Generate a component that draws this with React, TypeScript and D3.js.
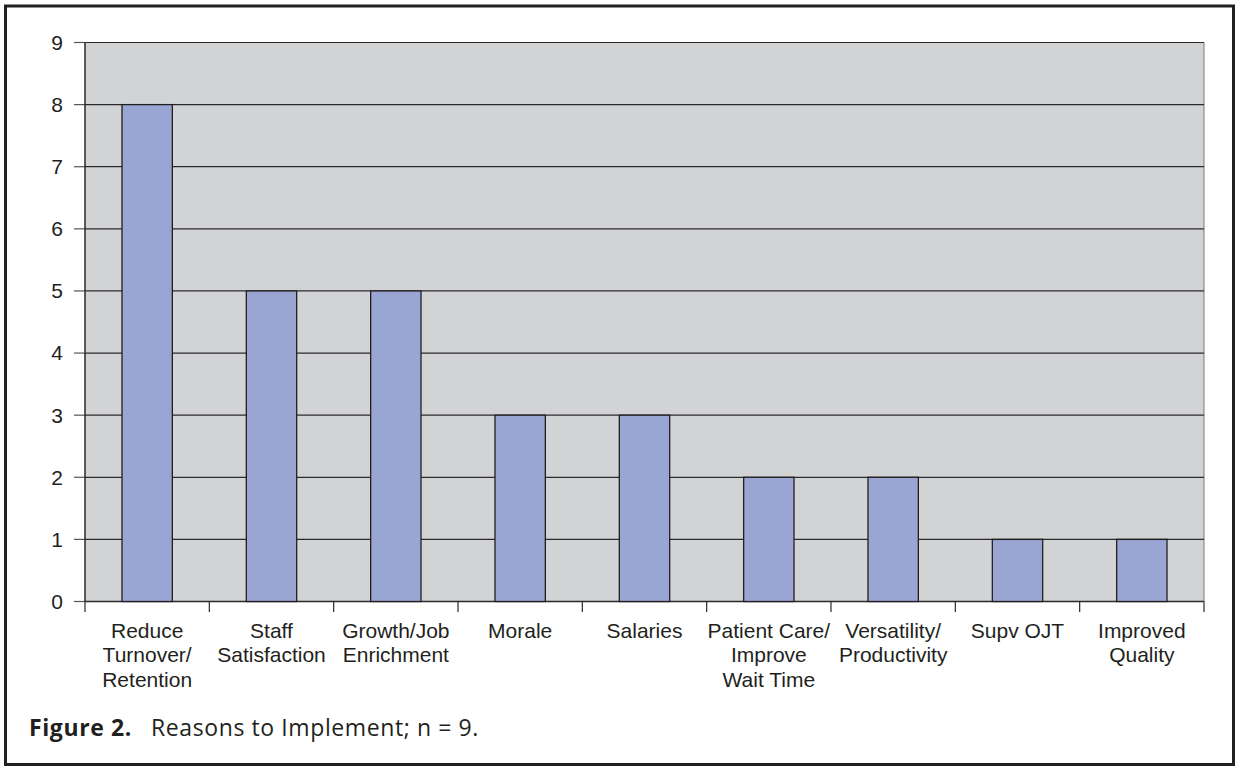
import * as d3 from 'd3';

const categories = [
  ['Reduce', 'Turnover/', 'Retention'],
  ['Staff', 'Satisfaction'],
  ['Growth/Job', 'Enrichment'],
  ['Morale'],
  ['Salaries'],
  ['Patient Care/', 'Improve', 'Wait Time'],
  ['Versatility/', 'Productivity'],
  ['Supv OJT'],
  ['Improved', 'Quality'],
];
const counts = [8, 5, 5, 3, 3, 2, 2, 1, 1];
const yTicks = [0, 1, 2, 3, 4, 5, 6, 7, 8, 9];

export default function App() {
  const width = 1237;
  const height = 769;
  const plot = { left: 85, right: 1204, top: 42.5, bottom: 601.5 };

  const keys = categories.map((c) => c.join(' '));
  const xBand = d3.scaleBand().domain(keys).range([plot.left, plot.right]).paddingInner(0).paddingOuter(0);
  const yScale = d3.scaleLinear().domain([0, 9]).range([plot.bottom, plot.top]);
  const barW = xBand.bandwidth() * 0.405;
  const font = 'Liberation Sans, Arial, sans-serif';

  return (
    <svg width={width} height={height} style={{ position: 'absolute', left: 0, top: 0, background: '#fff' }}>
      {/* frame */}
      <rect x={5.5} y={6} width={1228} height={758.5} fill="#fff" stroke="#231f20" strokeWidth={3} />

      {/* plot area */}
      <rect x={plot.left} y={plot.top} width={plot.right - plot.left} height={plot.bottom - plot.top} fill="#d2d3d5" />
      <line x1={plot.right} x2={plot.right} y1={plot.top} y2={plot.bottom} stroke="#8a8b8d" strokeWidth={1.2} />

      {/* grid + y ticks */}
      {yTicks.map((t) => (
        <g key={t}>
          <line x1={plot.left} x2={plot.right} y1={yScale(t)} y2={yScale(t)} stroke="#2b2a2b" strokeWidth={t === 0 ? 1.5 : 1.2} />
          <line x1={74} x2={plot.left} y1={yScale(t)} y2={yScale(t)} stroke="#555" strokeWidth={1.2} />
          <text x={63} y={yScale(t)} dy="0.35em" textAnchor="end" fontFamily={font} fontSize={21} fill="#231f20">
            {t}
          </text>
        </g>
      ))}

      {/* y axis */}
      <line x1={plot.left} x2={plot.left} y1={plot.top} y2={plot.bottom} stroke="#2b2a2b" strokeWidth={1.5} />

      {/* bars */}
      {counts.map((v, i) => {
        const cx = (xBand(keys[i]) ?? 0) + xBand.bandwidth() / 2;
        return (
          <rect
            key={keys[i]}
            x={cx - barW / 2}
            y={yScale(v)}
            width={barW}
            height={plot.bottom - yScale(v)}
            fill="#99a5d3"
            stroke="#231f20"
            strokeWidth={1.3}
          />
        );
      })}

      {/* x ticks */}
      {keys.concat(['end']).map((k, i) => {
        const x = i < keys.length ? xBand(k) ?? 0 : plot.right;
        return <line key={'t' + i} x1={x} x2={x} y1={plot.bottom} y2={612} stroke="#2b2a2b" strokeWidth={1.2} />;
      })}

      {/* x labels */}
      {categories.map((lines, i) => {
        const cx = (xBand(keys[i]) ?? 0) + xBand.bandwidth() / 2;
        return (
          <text key={'l' + i} textAnchor="middle" fontFamily={font} fontSize={21} fill="#231f20">
            {lines.map((ln, j) => (
              <tspan key={j} x={cx} y={637.5 + j * 24.5}>
                {ln}
              </tspan>
            ))}
          </text>
        );
      })}

      {/* caption */}
      <text x={29} y={736} fontFamily="Open Sans, Lato, sans-serif" fontSize={23} letterSpacing={0.6} fill="#231f20">
        <tspan fontWeight="bold">Figure 2.</tspan>
        <tspan x={151}>Reasons to Implement; n = 9.</tspan>
      </text>
    </svg>
  );
}
